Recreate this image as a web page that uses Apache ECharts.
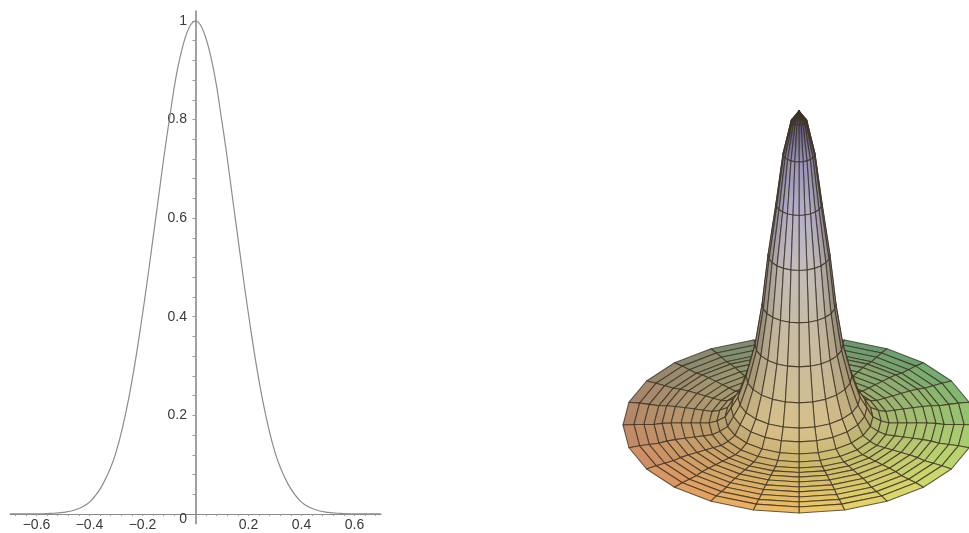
<!DOCTYPE html>
<html><head><meta charset="utf-8">
<style>html,body{margin:0;padding:0;background:#fff}#c{width:969px;height:533px;filter:blur(0.45px)}</style>
<script src="https://cdn.jsdelivr.net/npm/echarts@6/dist/echarts.min.js"></script>
</head><body><div id="c"></div>
<script>
// ---- left panel: profile curve
const profileX = [-0.7,-0.65,-0.6,-0.55,-0.5,-0.45,-0.4,-0.35,-0.3,-0.25,-0.2,-0.15,-0.1,-0.05,0,0.05,0.1,0.15,0.2,0.25,0.3,0.35,0.4,0.45,0.5,0.55,0.6,0.65,0.7];
const profileY = [0,0,0,0.001,0.003,0.009,0.024,0.06,0.125,0.24,0.405,0.6,0.795,0.945,1,0.945,0.795,0.6,0.405,0.24,0.125,0.06,0.024,0.009,0.003,0.001,0,0,0];
const xLabelValues = [-0.6,-0.4,-0.2,0.2,0.4,0.6];
const yLabelValues = [0,0.2,0.4,0.6,0.8,1];
const xTickValues = [-0.68,-0.64,-0.6,-0.56,-0.52,-0.48,-0.44,-0.4,-0.36,-0.32,-0.28,-0.24,-0.2,-0.16,-0.12,-0.08,-0.04,0.04,0.08,0.12,0.16,0.2,0.24,0.28,0.32,0.36,0.4,0.44,0.48,0.52,0.56,0.6,0.64,0.68];
const yTickValues = [0.04,0.08,0.12,0.16,0.2,0.24,0.28,0.32,0.36,0.4,0.44,0.48,0.52,0.56,0.6,0.64,0.68,0.72,0.76,0.8,0.84,0.88,0.92,0.96,1];
// ---- right panel: surface of revolution, rim to apex (fractions of rim radius)
const ringRadius = [1,0.9375,0.881,0.824,0.778,0.727,0.67,0.614,0.5625,0.511,0.466,0.42,0.386,0.347,0.301,0.25,0.21,0.176,0.131,0.091,0.045,0];
const ringHeight = [0,0.003,0.003,0.003,0.009,0.011,0.011,0.011,0.011,0.011,0.023,0.045,0.097,0.156,0.276,0.455,0.685,0.966,1.256,1.54,1.727,1.784];
const sectorCount = 24;

function hex(c){return [parseInt(c.slice(1,3),16),parseInt(c.slice(3,5),16),parseInt(c.slice(5,7),16)];}
function mix(a,b,t){return a.map((v,i)=>v+(b[i]-v)*t);}
const backLeft=hex('#857f74'),backRight=hex('#50a070'),frontLeft=hex('#f4905c'),frontRight=hex('#e8f46e');
const ramp=[[0,'#dcc288'],[0.1,'#d8c28c'],[0.3,'#cdbfa4'],[0.5,'#c9c2b6'],[0.62,'#c4bfcf'],[0.78,'#b0abcb'],[0.92,'#8f89b8'],[0.975,'#5c5778'],[1,'#33303f']].map(s=>[s[0],hex(s[1])]);
function rampAt(t){for(let i=1;i<ramp.length;i++){if(t<=ramp[i][0]){return mix(ramp[i-1][1],ramp[i][1],(t-ramp[i-1][0])/(ramp[i][0]-ramp[i-1][0]));}}return ramp[ramp.length-1][1];}
function vertexColor(r,h,th,slope){
  const u=(Math.sin(th)*r+1)/2,v=(Math.cos(th)*r+1)/2;
  let c=mix(mix(backLeft,backRight,u),mix(frontLeft,frontRight,u),v);
  const t=h/1.784;
  c=mix(c,rampAt(t),Math.min(1,t/0.07));
  const s=Math.sin(th);
  const light=1-slope*(0.02+0.3*s*s*s*s);
  return 'rgb('+c.map(x=>Math.round(x*light)).join(',')+')';
}
function faceFill(ring,sector){
  const th=(sector+0.5)/sectorCount*2*Math.PI;
  const slope=Math.min(1,(ringHeight[ring+1]-ringHeight[ring])/(ringRadius[ring]-ringRadius[ring+1])/4);
  const outer=vertexColor(ringRadius[ring],ringHeight[ring],th,slope);
  const inner=vertexColor(ringRadius[ring+1],ringHeight[ring+1],th,slope);
  return new echarts.graphic.LinearGradient(0,0,0,1,[{offset:0,color:inner},{offset:1,color:outer}]);
}
const faces=[];
for(let i=0;i<ringRadius.length-1;i++){for(let j=0;j<sectorCount;j++){
  const r=(ringRadius[i]+ringRadius[i+1])/2,th=(j+0.5)/sectorCount*2*Math.PI;
  faces.push([i,j,r*Math.cos(th)]);
}}
faces.sort((a,b)=>a[2]-b[2]);
function project(ring,k){
  const th=k/sectorCount*2*Math.PI,r=ringRadius[ring];
  return [r*Math.sin(th),ringHeight[ring]-0.5*r*Math.cos(th)];
}
const axisGrey='#8a8a8a';
const chart=echarts.init(document.getElementById('c'),null,{renderer:'canvas'});
chart.setOption({
  animation:false,backgroundColor:'#fff',
  grid:[
    {left:10,top:11.1,width:371,height:512.7,outerBoundsMode:'none',containLabel:false},
    {left:623,top:111,width:352,height:402,outerBoundsMode:'none',containLabel:false}
  ],
  xAxis:[
    {type:'value',gridIndex:0,min:-0.7,max:0.7,splitLine:{show:false},
     axisLine:{onZero:true,lineStyle:{color:axisGrey,width:1.2}},
     axisTick:{customValues:xTickValues,length:2,lineStyle:{color:'#999',width:1}},
     axisLabel:{customValues:xLabelValues,margin:-6,color:'#3a3a3a',fontFamily:'Liberation Sans',fontSize:14,
       formatter:v=>(v<0?'\u2212':'')+Math.abs(v).toFixed(1)}},
    {type:'value',gridIndex:1,min:-1,max:1,show:false}
  ],
  yAxis:[
    {type:'value',gridIndex:0,min:-0.02,max:1.02,splitLine:{show:false},
     axisLine:{onZero:true,lineStyle:{color:axisGrey,width:1.6}},
     axisTick:{customValues:yTickValues,length:3,lineStyle:{color:'#999',width:1}},
     axisLabel:{customValues:yLabelValues,margin:-177,color:'#3a3a3a',fontFamily:'Liberation Sans',fontSize:14,
       formatter:v=>v===0?'{z|0}':String(v),
       rich:{z:{fontFamily:'Liberation Sans',fontSize:14,color:'#3a3a3a',padding:[10,0,0,0]}}}},
    {type:'value',gridIndex:1,min:-0.5,max:1.784,show:false}
  ],
  series:[
    {type:'line',xAxisIndex:0,yAxisIndex:0,data:profileX.map((x,i)=>[x,profileY[i]]),smooth:0.4,showSymbol:false,silent:true,
     lineStyle:{color:'#8c8c8c',width:1.2}},
    {type:'custom',xAxisIndex:1,yAxisIndex:1,coordinateSystem:'cartesian2d',silent:true,clip:false,
     data:faces,
     encode:{x:[],y:[]},
     renderItem:function(params,api){
       const ring=api.value(0),k=api.value(1);
       const pts=[project(ring,k),project(ring,k+1),project(ring+1,k+1),project(ring+1,k)].map(p=>api.coord(p));
       return {type:'polygon',shape:{points:pts},
         style:{fill:faceFill(ring,k),stroke:'rgba(60,50,34,0.78)',lineWidth:1.1,lineJoin:'round'}};
     }}
  ]
});
</script></body></html>
